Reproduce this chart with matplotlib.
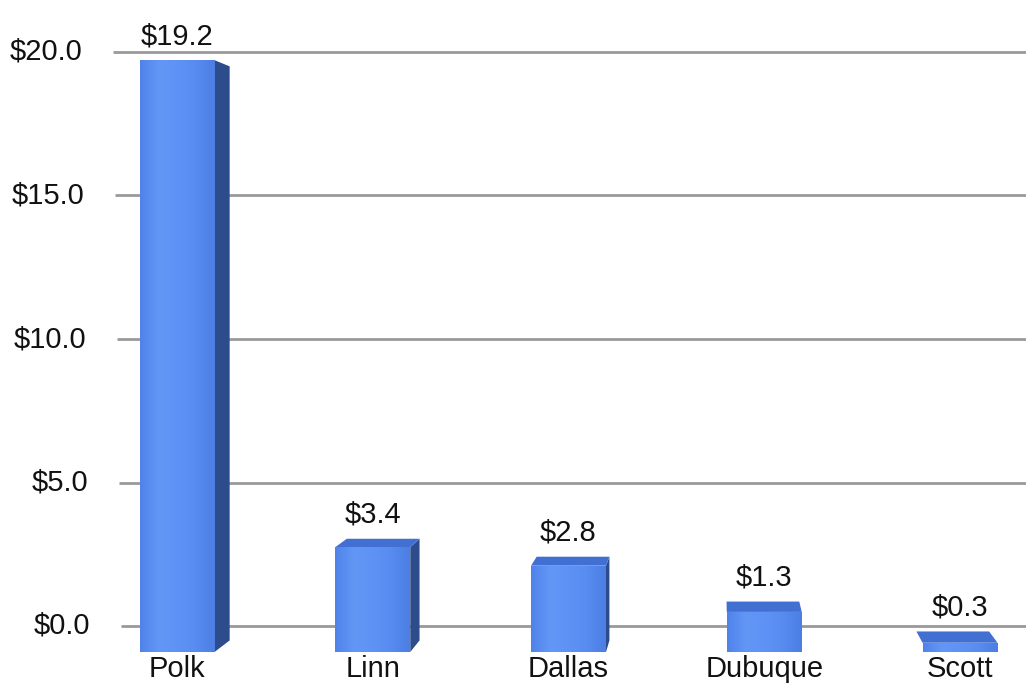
import numpy as np
import matplotlib.pyplot as plt
from matplotlib.patches import Polygon, Rectangle
from matplotlib.colors import LinearSegmentedColormap

counties = ["Polk", "Linn", "Dallas", "Dubuque", "Scott"]
amounts = [19.2, 3.4, 2.8, 1.3, 0.3]
grid_values = [0, 5, 10, 15, 20]

plt.rcParams["font.family"] = ["Liberation Sans", "DejaVu Sans"]

# canvas is laid out in pixel-ish units: x step per bar, y step per dollar
PX_X = 1 / 195.75
PX_Y = 20 / 574
FRONT_BASE = -26 * PX_Y      # front faces sit a little in front of the back wall
FRONT_SCALE = 1.074
VANISH = ((720 - 177) * PX_X, (626 - 266) * PX_Y)
DEPTH = 0.03
HALF_W = 37.5 * PX_X

FRONT_CMAP = LinearSegmentedColormap.from_list(
    "front", ["#5083ea", "#6297f6", "#5e93f5", "#588cf0", "#4c7ee4"])
SIDE_COLOR = "#2d4c8c"
TOP_COLOR = "#4270d2"


def back(x, y):
    """Project a front-face corner onto the back face."""
    return x + DEPTH * (VANISH[0] - x), y + DEPTH * (VANISH[1] - y)


fig = plt.figure(figsize=(10.26, 6.83), dpi=100)
ax = fig.add_axes([0, 0, 1, 1])
x_lo, x_hi = -177 * PX_X, (1026 - 177) * PX_X
y_lo, y_hi = -57 * PX_Y, 626 * PX_Y

# back-wall gridlines with their labels, slightly skewed by the perspective
for v in grid_values:
    left = (121 - 0.4 * v - 177) * PX_X
    ax.hlines(v, left, x_hi, color="#999999", lw=2.0, zorder=1)
    ax.text((90 - 0.4 * v - 177) * PX_X, v, f"${v:.1f}",
            ha="right", va="center", fontsize=21, color="#111111")

grad = np.linspace(0, 1, 64).reshape(1, -1)
for i, (name, val) in enumerate(zip(counties, amounts)):
    x0, x1 = i - HALF_W, i + HALF_W
    y0 = FRONT_BASE
    y1 = FRONT_BASE + val * FRONT_SCALE

    bx1t, by1t = back(x1, y1)
    bx1b, by1b = back(x1, y0)
    bx0t, by0t = back(x0, y1)

    # side face
    if bx1t > x1:
        ax.add_patch(Polygon([(x1, y0), (x1, y1), (bx1t, by1t), (bx1b, by1b)],
                             closed=True, fc=SIDE_COLOR, ec="none", zorder=3))
    # top face
    top_edge = y1
    if by1t > y1:
        ax.add_patch(Polygon([(x0, y1), (x1, y1), (bx1t, by1t), (bx0t, by0t)],
                             closed=True, fc=TOP_COLOR, ec="none", zorder=3))
        top_edge = max(by1t, by0t)

    # front face with a soft horizontal shading
    rect = Rectangle((x0, y0), x1 - x0, y1 - y0, fc="none", ec="none")
    ax.add_patch(rect)
    im = ax.imshow(grad, cmap=FRONT_CMAP, extent=[x0, x1, y0, y1],
                   aspect="auto", zorder=4, interpolation="bicubic")
    im.set_clip_path(rect)

    ax.text(i, top_edge + 10 * PX_Y, f"${val:.1f}", ha="center", va="bottom",
            fontsize=21, color="#111111", zorder=5)
    ax.text(i, -43 * PX_Y, name, ha="center", va="center",
            fontsize=21, color="#111111", zorder=5)

ax.set_xlim(x_lo, x_hi)
ax.set_ylim(y_lo, y_hi)
ax.axis("off")

fig.savefig("out.png", dpi=100, facecolor="white")
